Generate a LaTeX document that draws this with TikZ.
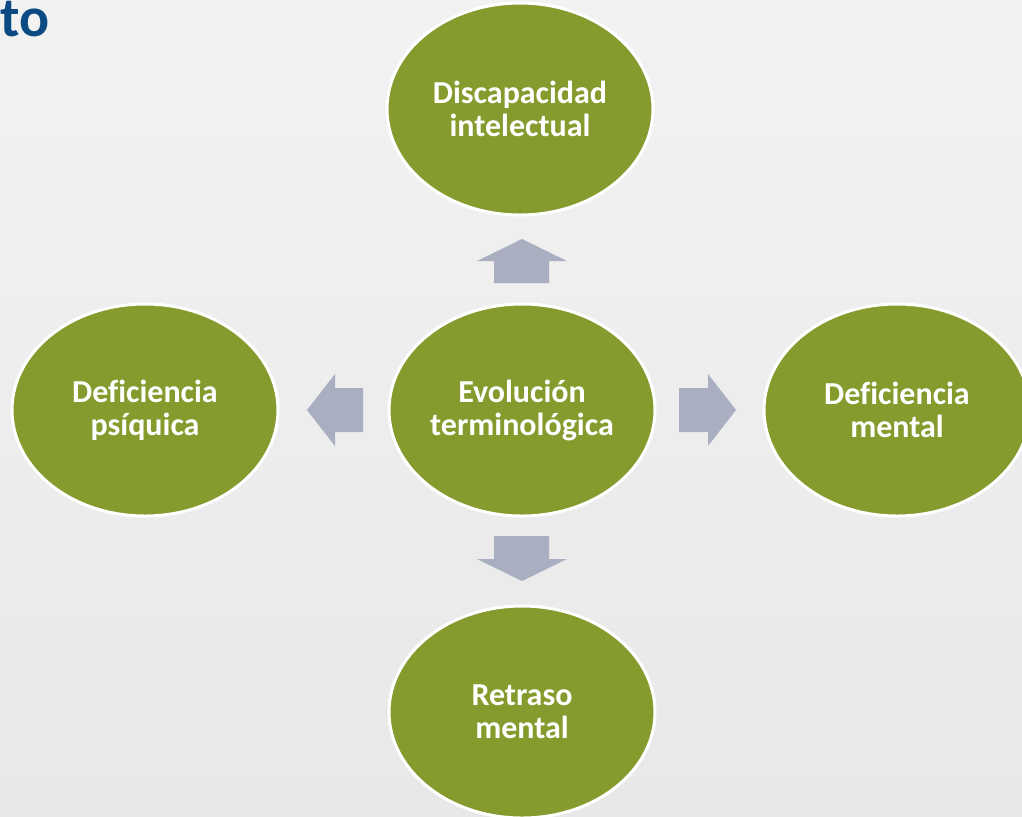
\documentclass[tikz,border=0pt]{standalone}
\usepackage{fontspec}
\setmainfont{Carlito}[Ligatures=NoCommon]
\usetikzlibrary{shapes}
\definecolor{olivo}{HTML}{859B2D}
\definecolor{flecha}{HTML}{A9AFC0}
\definecolor{titulo}{HTML}{0B4A82}

\begin{document}
\begin{tikzpicture}[x=0.5pt,y=-0.5pt,
  concepto/.style={ellipse, fill=olivo, draw=white, line width=1.5pt,
    minimum width=133pt, minimum height=106pt, inner sep=0pt, align=center,
    text=white, font=\fontsize{16}{16.5}\selectfont\bfseries}]
\useasboundingbox (0,0) rectangle (1022,816);
\clip (0,0) rectangle (1022,816);
\shade[top color=black!5, bottom color=black!9] (0,0) rectangle (1022,816);
\node[anchor=base west, inner sep=0pt, text=titulo,
  font=\fontsize{28}{32}\selectfont\bfseries] (titulo) at (0,36) {to};
\node[concepto] (centro) at (522,410) {Evolución\\terminológica};
\node[concepto] (arriba) at (520,109) {Discapacidad\\intelectual};
\node[concepto] (abajo) at (522,712) {Retraso\\mental};
\node[concepto] (izq) at (145,410) {Deficiencia\\psíquica};
\node[concepto] (der) at (897,410) {Deficiencia\\mental};
% flechas
\fill[flecha] (522,239) -- (567,261) -- (549,261) -- (549,283) -- (494,283) -- (494,261) -- (477,261) -- cycle;
\fill[flecha] (522,581) -- (567,559) -- (549,559) -- (549,536) -- (494,536) -- (494,559) -- (477,559) -- cycle;
\fill[flecha] (307,410) -- (335,374) -- (335,388) -- (363,388) -- (363,432) -- (335,432) -- (335,446) -- cycle;
\fill[flecha] (736,410) -- (708,374) -- (708,388) -- (679,388) -- (679,432) -- (708,432) -- (708,446) -- cycle;
\end{tikzpicture}
\end{document}
